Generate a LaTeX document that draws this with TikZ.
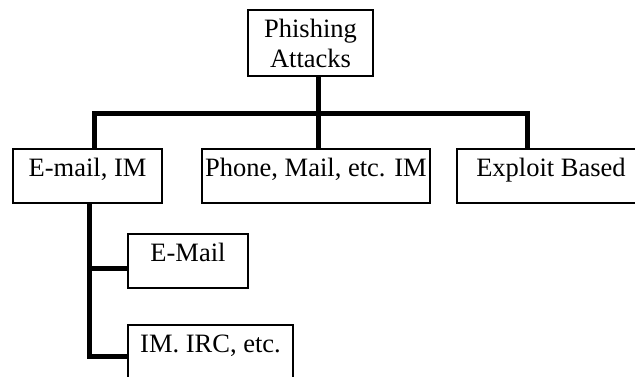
\documentclass[tikz,border=0pt]{standalone}
\usepackage{fontspec}
\setmainfont{Liberation Serif}
\begin{document}
\begin{tikzpicture}[x=1pt, y=-1pt,
  box/.style={draw, line width=1.8pt, inner xsep=0pt, inner ysep=7pt, text height=20pt, text depth=20pt, anchor=base, font=\fontsize{26.5}{30}\selectfont},
  link/.style={line width=5pt}]
\useasboundingbox (0,0) rectangle (635,376);
\node at (310.5,43) [draw, line width=1.8pt, align=center, inner sep=0pt, minimum width=125pt, minimum height=66pt, font=\fontsize{26.5}{30}\selectfont] (root) {Phishing\\Attacks};
\node at (87.5,176) [box, minimum width=149pt] (email) {E-mail, IM};
\node at (316,176) [box, minimum width=228pt] (phone) {Phone, Mail, etc. IM};
\node at (551,176) [box, minimum width=188pt] (exploit) {Exploit Based};
\node at (188,261) [box, minimum width=120pt] (mail) {E-Mail};
\node at (210.5,352) [box, minimum width=165pt] (irc) {IM. IRC, etc.};
\coordinate (bar1) at (94,113);
\coordinate (bar2) at (318,113);
\coordinate (bar3) at (527,113);
\coordinate (tap1) at (89,268);
\coordinate (tap2) at (89,356);
\draw [link] (bar2 |- root.south) -- (bar2) -- (bar2 |- phone.north);
\draw [link] (bar1 |- email.north) -- (bar1) -- (bar3) -- (bar3 |- exploit.north);
\draw [link] (tap2 |- email.south) -- (tap2) -- (tap2 -| irc.west);
\draw [link] (tap1) -- (tap1 -| mail.west);
\end{tikzpicture}
\end{document}
